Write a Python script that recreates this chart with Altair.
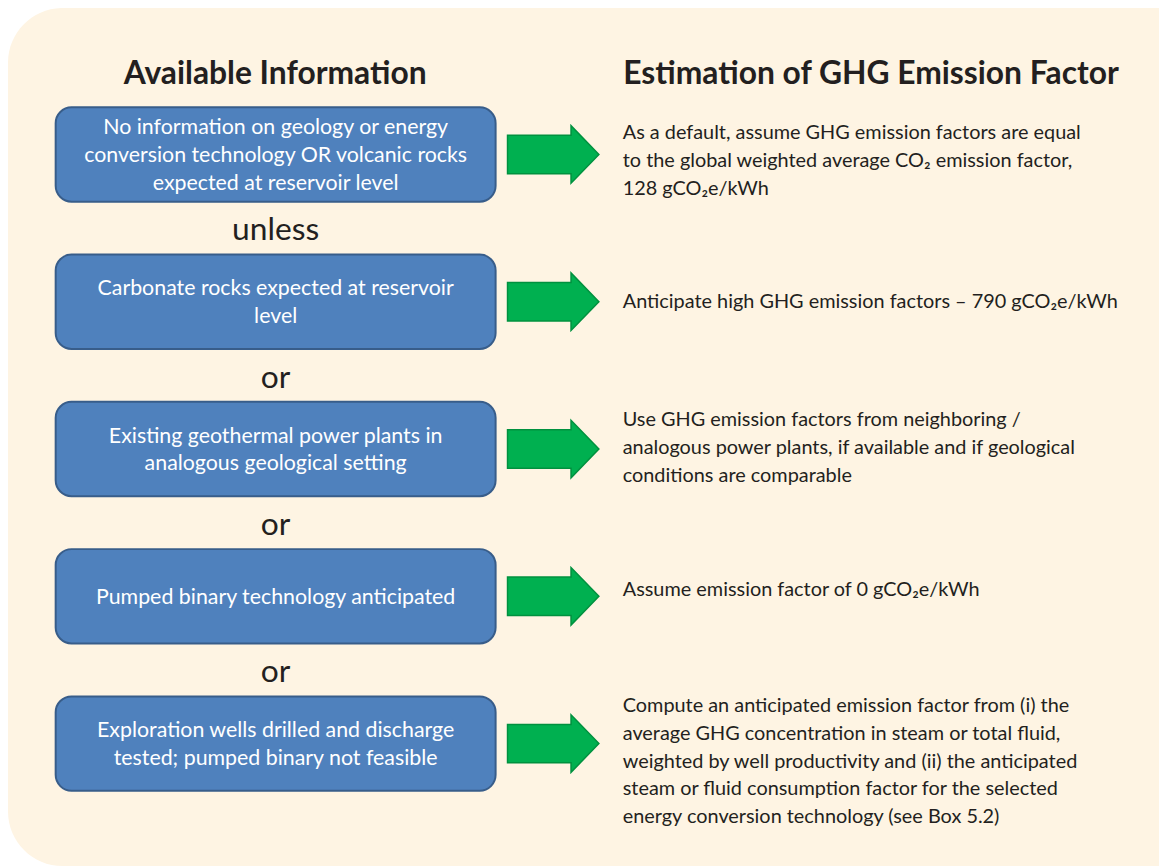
import altair as alt
import pandas as pd

# ---------------- content ----------------
headings = ["Available Information", "Estimation of GHG Emission Factor"]
heading_x = [277, 877]
heading_baseline = 82

left_texts = [
    "No information on geology or energy\nconversion technology OR volcanic rocks\nexpected at reservoir level",
    "Carbonate rocks expected at reservoir\nlevel",
    "Existing geothermal power plants in\nanalogous geological setting",
    "Pumped binary technology anticipated",
    "Exploration wells drilled and discharge\ntested; pumped binary not feasible",
]
connectors = ["unless", "or", "or", "or"]
right_texts = [
    "As a default, assume GHG emission factors are equal\nto the global weighted average CO\u2082 emission factor,\n128 gCO\u2082e/kWh",
    "Anticipate high GHG emission factors \u2013 790 gCO\u2082e/kWh",
    "Use GHG emission factors from neighboring /\nanalogous power plants, if available and if geological\nconditions are comparable",
    "Assume emission factor of 0 gCO\u2082e/kWh",
    "Compute an anticipated emission factor from (i) the\naverage GHG concentration in steam or total fluid,\nweighted by well productivity and (ii) the anticipated\nsteam or fluid consumption factor for the selected\nenergy conversion technology (see Box 5.2)",
]
right_baselines = [137, 307, 426, 597, 714]

# ---------------- layout ----------------
W, H, M = 1167, 867, 8
BOX_L, BOX_R = 56, 499
BOX_TOP0, STEP, BOX_H = 105, 148.3, 95
ARROW_X, ARROW_W = 557, 92
LINE_H = 28
FONT = "Lato"

n = len(left_texts)
tops = [BOX_TOP0 + i * STEP for i in range(n)]
centers = [t + BOX_H / 2 for t in tops]

boxes = pd.DataFrame({"x": [BOX_L] * n, "x2": [BOX_R] * n,
                      "y": tops, "y2": [t + BOX_H for t in tops]})
box_txt = pd.DataFrame({
    "x": [(BOX_L + BOX_R) / 2] * n,
    "y": [c + 7.5 - (t.count("\n")) * LINE_H / 2 for c, t in zip(centers, left_texts)],
    "t": left_texts,
})
arrows = pd.DataFrame({"x": [ARROW_X] * n, "y": centers})
conn = pd.DataFrame({"x": [(BOX_L + BOX_R) / 2] * len(connectors),
                     "y": [tops[i] + BOX_H + 39 for i in range(len(connectors))],
                     "t": connectors})
right = pd.DataFrame({"x": [627] * n, "y": right_baselines, "t": right_texts})
head = pd.DataFrame({"x": heading_x, "y": [heading_baseline] * 2, "t": headings})
bg = pd.DataFrame({"x": [8], "x2": [W + 60], "y": [5], "y2": [869]})

xs = alt.Scale(domain=[M, W], nice=False, zero=False)
ys = alt.Scale(domain=[M, H], nice=False, zero=False, reverse=True)
X = lambda f="x": alt.X(f"{f}:Q", scale=xs, axis=None)
Y = lambda f="y": alt.Y(f"{f}:Q", scale=ys, axis=None)

background = alt.Chart(bg).mark_rect(
    color="#fef4e3", cornerRadiusTopLeft=55, cornerRadiusBottomLeft=55
).encode(x=X(), x2="x2:Q", y=Y(), y2="y2:Q")

box_layer = alt.Chart(boxes).mark_rect(
    fill="#4f81bd", stroke="#385d8a", strokeWidth=2, cornerRadius=16
).encode(x=X(), x2="x2:Q", y=Y(), y2="y2:Q")

arrow_path = "M -1 -0.42 L 0.39 -0.42 L 0.39 -0.63 L 1 0 L 0.39 0.63 L 0.39 0.42 L -1 0.42 Z"
arrow_layer = alt.Chart(arrows).mark_point(
    shape=arrow_path, size=ARROW_W ** 2, filled=True, fill="#00b050",
    stroke="#00913f", strokeWidth=1.5, opacity=1
).encode(x=X(), y=Y())

box_text_layer = alt.Chart(box_txt).mark_text(
    font=FONT, fontSize=21.5, color="#ffffff", align="center",
    baseline="alphabetic", lineBreak="\n", lineHeight=LINE_H
).encode(x=X(), y=Y(), text="t:N")

conn_layer = alt.Chart(conn).mark_text(
    font=FONT, fontSize=32, color="#231f20", align="center", baseline="alphabetic"
).encode(x=X(), y=Y(), text="t:N")

right_layer = alt.Chart(right).mark_text(
    font=FONT, fontSize=20, color="#231f20", align="left",
    baseline="alphabetic", lineBreak="\n", lineHeight=LINE_H
).encode(x=X(), y=Y(), text="t:N")

head_layer = alt.Chart(head).mark_text(
    font=FONT, fontSize=32, fontWeight="bold", color="#231f20", align="center",
    baseline="alphabetic"
).encode(x=X(), y=Y(), text="t:N")

chart = alt.layer(
    background, box_layer, arrow_layer, box_text_layer, conn_layer, right_layer, head_layer
).properties(
    width=W - M, height=H - M,
    autosize=alt.AutoSizeParams(type="none"), padding=0
).configure_view(strokeWidth=0)

chart.save("out.html", embed_options={"renderer": "svg", "actions": False})
